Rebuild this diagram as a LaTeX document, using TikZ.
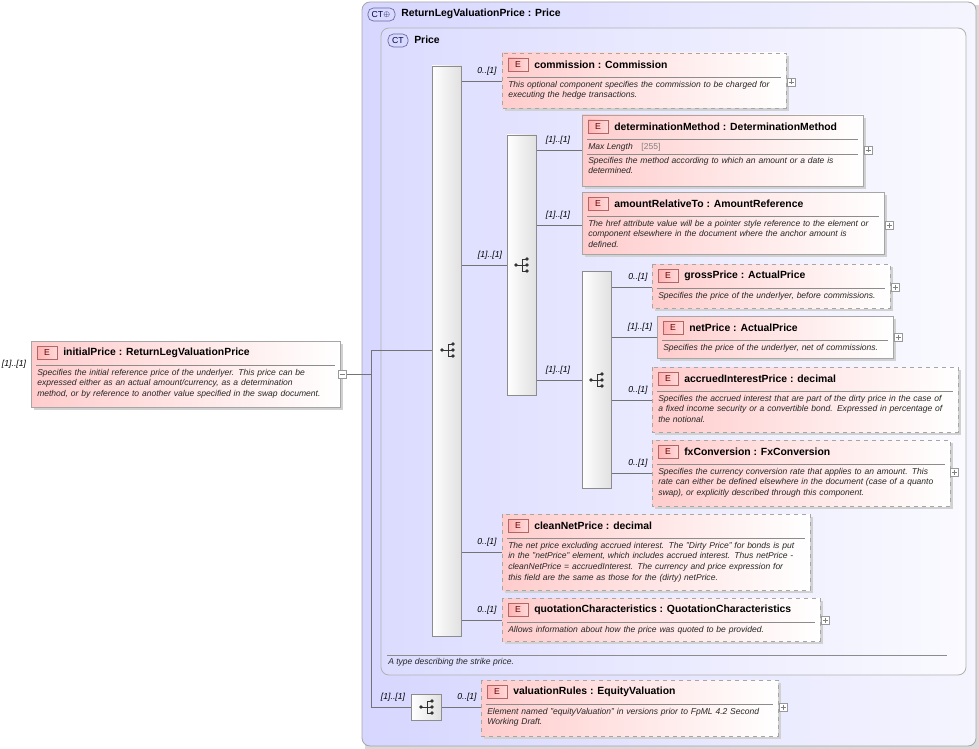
\documentclass[tikz,border=0pt]{standalone}
\usepackage{fontspec}
\setmainfont{Liberation Sans}
\begin{document}
\begin{tikzpicture}[x=0.75pt,y=-0.75pt,
  mult/.style={font=\fontsize{6.5}{7}\selectfont\itshape,anchor=south},
  desc/.style={font=\fontsize{6.4}{7.9}\selectfont\itshape,align=left,anchor=north west,inner sep=0pt,text=black!85},
  ttl/.style={font=\fontsize{7.8}{9}\selectfont\bfseries,anchor=west,inner sep=0pt},
  conn/.style={draw=black!55,line width=0.5pt},
  bar/.style={draw=black!45,left color=white,right color=black!12,line width=0.5pt},
  pbox/.style={draw=black!40,fill=white,line width=0.4pt}]
\useasboundingbox (0,0) rectangle (979,749);
\newcommand\badge[3]{\draw[draw=red!50!black!60,left color=red!30,right color=red!15,line width=0.4pt] (#1,#2) rectangle ++(20,13);
  \node[font=\fontsize{6.5}{7}\selectfont,text=red!40!black] at (#1+10,#2+6.5) {#3};}
\newcommand\plusbox[2]{\draw[pbox] (#1,#2) rectangle ++(8,8); \draw[black!50,line width=0.4pt] (#1+1.5,#2+4)--(#1+6.5,#2+4) (#1+4,#2+1.5)--(#1+4,#2+6.5);}
\newcommand\elem[8]{%
  \fill[black!18] (#2+3,#3+3) rectangle (#4+3,#5+3);
  \draw[#6,draw=black!35,line width=0.6pt,left color=red!20,right color=white] (#2,#3) rectangle (#4,#5);
  \coordinate (#1) at (#2,#3/2+#5/2);
  \badge{#2+6}{#3+5}{E}
  \node[ttl] at (#2+32,#3+11.5) {#7};
  \draw[black!45,line width=0.4pt] (#2+5,#3+24)--(#4-5,#3+24);
  \pgfmathsetlengthmacro\tw{(#4-#2-8)*0.75}
  \node[desc,text width=\tw] at (#2+6,#3+28) {#8};}
\newcommand\seqicon[2]{\fill[black!80] (#1-6,#2) circle (1.8);
  \draw[black!80,line width=0.7pt] (#1-6,#2)--(#1,#2) (#1,#2-6)--(#1,#2+6) (#1,#2-6)--(#1+4,#2-6) (#1,#2)--(#1+4,#2) (#1,#2+6)--(#1+4,#2+6);
  \fill[black!80] (#1+5,#2-6) circle (1.8) (#1+5,#2) circle (1.8) (#1+5,#2+6) circle (1.8);}
% outer CT
\fill[black!15] (365,5) rectangle (979,749);
\draw[black!35,rounded corners=6,left color=blue!16,right color=blue!4,line width=0.6pt] (362,2) rectangle (976,746);
\draw[blue!40!black!60,fill=blue!15,rounded corners=4,line width=0.5pt] (368,8) rectangle ++(27,13);
\node[font=\fontsize{6.5}{7}\selectfont,text=blue!30!black] at (381,14.5) {CT\raisebox{0.2ex}{\tiny$\oplus$}};
\node[ttl] (outerT) at (401,14) {ReturnLegValuationPrice : Price};
% inner CT
\draw[black!30,rounded corners=6,left color=blue!14,right color=blue!2,line width=0.6pt] (381,28) rectangle (966,675);
\draw[blue!40!black!60,fill=blue!15,rounded corners=4,line width=0.5pt] (388,34) rectangle ++(20,13);
\node[font=\fontsize{6.5}{7}\selectfont,text=blue!30!black] at (398,40.5) {CT};
\node[ttl] (innerT) at (414,40) {Price};
\draw[black!45,line width=0.4pt] (387,655)--(947,655);
\node[desc] (innerD) at (388,658) {A type describing the strike price.};
% connectors
\draw[conn] (347,374)--(371,374) (371,350)--(371,707) (371,350)--(432,350) (371,707)--(411,707);
\draw[conn] (461,81)--(502,81) (461,265)--(507,265) (461,552)--(502,552) (461,620)--(502,620);
\draw[conn] (536,150)--(582,150) (536,225)--(582,225) (536,380)--(582,380);
\draw[conn] (611,287)--(652,287) (611,337)--(657,337) (611,400)--(652,400) (611,473)--(652,473);
\draw[conn] (441,707)--(481,707);
% bars
\draw[bar] (432,66) rectangle (461,636); \seqicon{448}{350}
\draw[bar] (507,135) rectangle (536,395); \seqicon{522}{265}
\draw[bar] (582,271) rectangle (611,488); \seqicon{597}{380}
\draw[bar] (411,694) rectangle (441,720); \seqicon{427}{707}
% elements
\elem{initialPrice}{31}{341}{340}{407}{solid}{initialPrice : ReturnLegValuationPrice}{Specifies the initial reference price of the underlyer. This price can be\\expressed either as an actual amount/currency, as a determination\\method, or by reference to another value specified in the swap document.}
\draw[pbox] (338,370) rectangle ++(8,8); \draw[black!50] (339.5,374)--(344.5,374);
\node[mult] at (14,373) {[1]..[1]};
\elem{commission}{502}{53}{786}{108}{dashed}{commission : Commission}{This optional component specifies the commission to be charged for\\executing the hedge transactions.}
\plusbox{787}{78}
\node[mult] at (487,80) {0..[1]};
\node[mult] at (490,264) {[1]..[1]};
\fill[black!18] (585,118) rectangle (866,189);
\draw[draw=black!35,line width=0.6pt,left color=red!20,right color=white] (582,115) rectangle (863,186);
\badge{588}{120}{E}
\node[ttl] (detT) at (614,126.5) {determinationMethod : DeterminationMethod};
\draw[black!45,line width=0.4pt] (587,139)--(858,139) (587,154)--(858,154);
\node[desc] at (588,143) {Max Length\quad{\upshape\color{black!50}[255]}};
\node[desc,text width=205pt] at (588,157) {Specifies the method according to which an amount or a date is\\determined.};
\plusbox{864}{146}
\node[mult] at (558,149) {[1]..[1]};
\elem{amountRel}{582}{192}{884}{254}{solid}{amountRelativeTo : AmountReference}{The href attribute value will be a pointer style reference to the element or\\component elsewhere in the document where the anchor amount is\\defined.}
\plusbox{885}{221}
\node[mult] at (558,224) {[1]..[1]};
\node[mult] at (558,379) {[1]..[1]};
\elem{gross}{652}{264}{890}{308}{dashed}{grossPrice : ActualPrice}{Specifies the price of the underlyer, before commissions.}
\plusbox{891}{283}
\node[mult] at (638,286) {0..[1]};
\elem{net}{657}{316}{893}{358}{solid}{netPrice : ActualPrice}{Specifies the price of the underlyer, net of commissions.}
\plusbox{894}{333}
\node[mult] at (640,336) {[1]..[1]};
\elem{accrued}{652}{367}{958}{432}{dashed}{accruedInterestPrice : decimal}{Specifies the accrued interest that are part of the dirty price in the case of\\a fixed income security or a convertible bond. Expressed in percentage of\\the notional.}
\node[mult] at (638,399) {0..[1]};
\elem{fx}{652}{440}{950}{506}{dashed}{fxConversion : FxConversion}{Specifies the currency conversion rate that applies to an amount. This\\rate can either be defined elsewhere in the document (case of a quanto\\swap), or explicitly described through this component.}
\plusbox{950}{468}
\node[mult] at (638,472) {0..[1]};
\elem{clean}{502}{514}{810}{590}{dashed}{cleanNetPrice : decimal}{The net price excluding accrued interest. The "Dirty Price" for bonds is put\\in the "netPrice" element, which includes accrued interest. Thus netPrice -\\cleanNetPrice = accruedInterest. The currency and price expression for\\this field are the same as those for the (dirty) netPrice.}
\node[mult] at (487,551) {0..[1]};
\elem{quot}{502}{598}{820}{641}{dashed}{quotationCharacteristics : QuotationCharacteristics}{Allows information about how the price was quoted to be provided.}
\plusbox{821}{616}
\node[mult] at (487,619) {0..[1]};
\elem{valRules}{481}{680}{778}{736}{dashed}{valuationRules : EquityValuation}{Element named "equityValuation" in versions prior to FpML 4.2 Second\\Working Draft.}
\plusbox{779}{703}
\node[mult] at (467,706) {0..[1]};
\node[mult] at (393,706) {[1]..[1]};
\end{tikzpicture}
\end{document}
